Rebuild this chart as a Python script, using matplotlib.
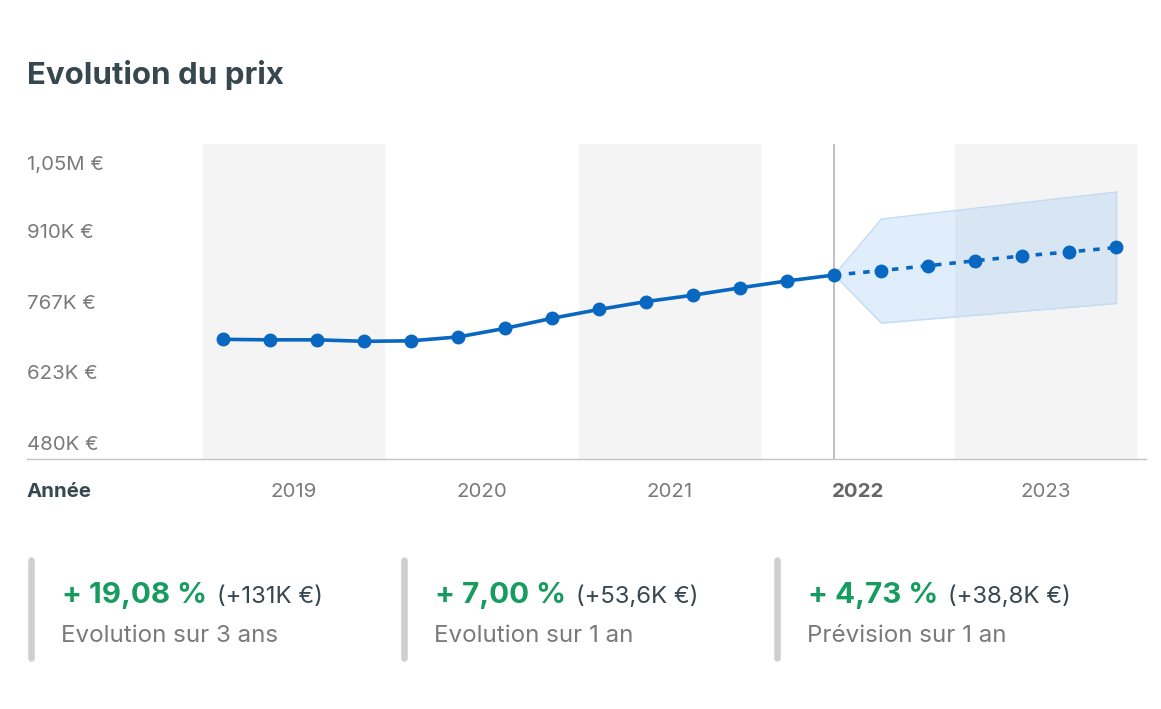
import matplotlib.pyplot as plt
from matplotlib.lines import Line2D

plt.rcParams['font.family'] = ['Inter', 'DejaVu Sans']

# quarterly prices in K€ (2019 Q1 .. 2023 Q4); index 13 = current
hist_x = list(range(14))
hist_y = [689, 688, 688, 685, 686, 694, 711.5, 732, 750, 766, 779, 794, 808, 820]
fc_x = [13, 14, 15, 16, 17, 18, 19]
fc_y = [820, 829, 839, 849, 858.8, 867, 876]
band_x = [13, 14, 19]
band_lo = [820, 722, 762]
band_hi = [820, 934, 989]

years = ['2019', '2020', '2021', '2022', '2023']
year_centers = [1.5, 5.5, 9.5, 13.5, 17.5]
shaded_years = [0, 2, 4]
ytick_vals = [480, 623, 767, 910, 1050]
ytick_labels = ['480K €', '623K €', '767K €', '910K €', '1,05M €']

stats_main = ['+ 19,08 %', '+ 7,00 %', '+ 4,73 %']
stats_delta = ['(+131K €)', '(+53,6K €)', '(+38,8K €)']
stats_sub = ['Evolution sur 3 ans', 'Evolution sur 1 an', 'Prévision sur 1 an']

W, H = 1161, 709
fig = plt.figure(figsize=(W / 100, H / 100), dpi=100)
fig.patch.set_facecolor('white')

def fx(px):
    return px / W

def fy(py):
    return 1 - py / H

ax = fig.add_axes([fx(27), fy(459), fx(1146) - fx(27), fy(144) - fy(459)])
xmin, xmax = -4.18, 19.63
ax.set_xlim(xmin, xmax)
ax.set_ylim(445.4, 1086.7)

blue = '#0867c0'
axis_fs = 14.7
for k in shaded_years:
    c = year_centers[k]
    ax.axvspan(c - 1.93, c + 1.93, color='#f4f4f4', lw=0, zorder=0)

ax.axvline(13, color='#b5b5b5', lw=1.2, zorder=1)
ax.fill_between(band_x, band_lo, band_hi, color=(0.6, 0.78, 0.95), alpha=0.3,
                lw=0, zorder=2)
ax.plot(band_x, band_hi, color='#c2daf3', lw=1, zorder=2)
ax.plot(band_x, band_lo, color='#c2daf3', lw=1, zorder=2)
ax.plot([19, 19], [band_lo[-1], band_hi[-1]], color='#c2daf3', lw=1, zorder=2)

ax.plot(fc_x, fc_y, color=blue, lw=2.6, linestyle=(0, (1.8, 2.2)), zorder=3)
ax.plot(hist_x, hist_y, color=blue, lw=2.6, zorder=4)
ax.plot(hist_x + fc_x[1:], hist_y + fc_y[1:], 'o', color=blue, ms=9, zorder=5)

for s in ['top', 'right', 'left']:
    ax.spines[s].set_visible(False)
ax.spines['bottom'].set_color('#c4c4c4')
ax.spines['bottom'].set_linewidth(1)
ax.set_yticks([])
ax.set_xticks([])

# y labels: baseline sits ~7.5 px below the value position
for v, lab in zip(ytick_vals, ytick_labels):
    ax.annotate(lab, xy=(xmin, v), xytext=(0, -7.5), textcoords='offset pixels',
                ha='left', va='baseline', fontsize=axis_fs, color='#7a7a7a',
                annotation_clip=False)

for c, yr in zip(year_centers, years):
    bold = yr == '2022'
    ax.annotate(yr, xy=(c, 0), xycoords=('data', 'axes fraction'),
                xytext=(0, -38), textcoords='offset pixels', ha='center',
                va='baseline', fontsize=axis_fs,
                fontweight='bold' if bold else 'normal',
                color='#666666' if bold else '#7a7a7a', annotation_clip=False)

fig.text(fx(27), fy(497), 'Année', fontsize=axis_fs, fontweight='bold',
         color='#37474f', ha='left', va='baseline')
fig.text(fx(27), fy(84), 'Evolution du prix', fontsize=22.5, fontweight='bold',
         color='#37474f', ha='left', va='baseline')

renderer = fig.canvas.get_renderer()
card_x = [27, 400, 773]
for i in range(3):
    x0 = card_x[i]
    fig.add_artist(Line2D([fx(x0 + 4)] * 2, [fy(560), fy(658)], lw=4.7,
                          color='#cfcfcf', solid_capstyle='round'))
    t = fig.text(fx(x0 + 35), fy(603), stats_main[i], fontsize=21.3,
                 fontweight='bold', color='#179c5f', ha='left', va='baseline')
    w = t.get_window_extent(renderer).width
    fig.text(fx(x0 + 35 + w + 10), fy(603), stats_delta[i], fontsize=17.2,
             color='#37474f', ha='left', va='baseline')
    fig.text(fx(x0 + 34), fy(642), stats_sub[i], fontsize=17.4,
             color='#7a7a7a', ha='left', va='baseline')

fig.savefig('out.png', dpi=100)
